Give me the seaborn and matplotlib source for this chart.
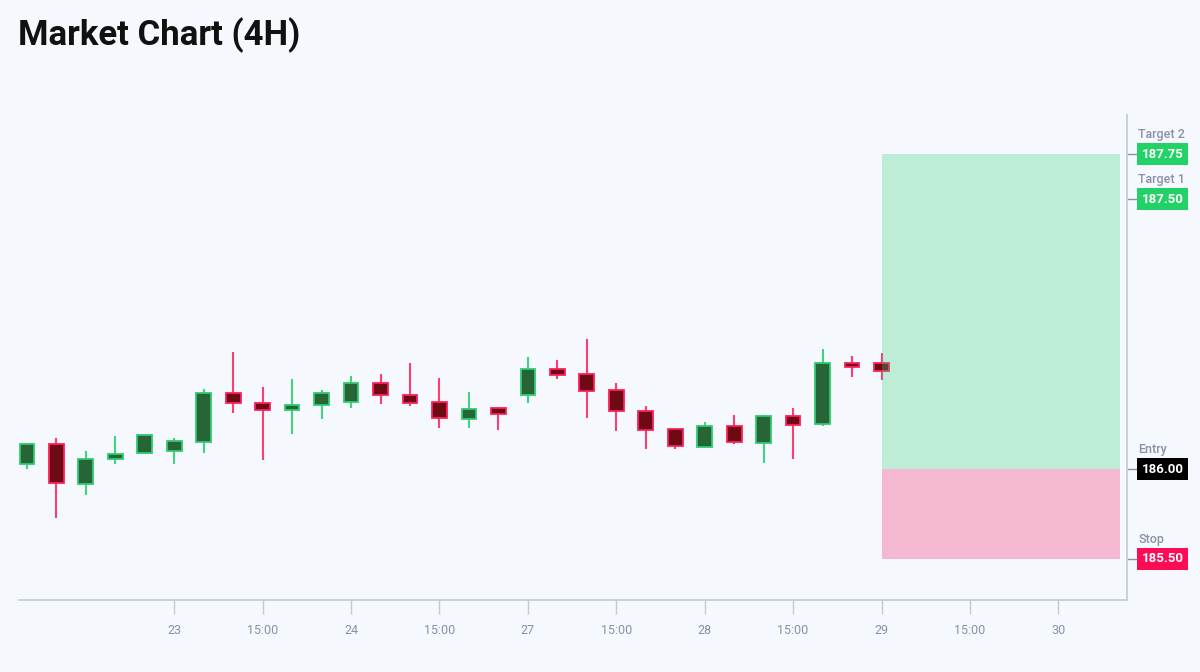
import numpy as np
import matplotlib
matplotlib.use("Agg")
import matplotlib.pyplot as plt
import seaborn as sns

# ============================================================
# DATA (4H candles)
# ============================================================
opens = [186.028, 186.139, 185.918, 186.054, 186.089, 186.100, 186.152, 186.422,
         186.365, 186.328, 186.356, 186.374, 186.476, 186.411, 186.371, 186.279,
         186.339, 186.411, 186.556, 186.528, 186.437, 186.324, 186.220, 186.124,
         186.239, 186.146, 186.296, 186.248, 186.591, 186.591]
highs = [186.146, 186.174, 186.098, 186.183, 186.189, 186.174, 186.446, 186.650,
         186.454, 186.500, 186.439, 186.517, 186.526, 186.591, 186.504, 186.426,
         186.344, 186.622, 186.604, 186.722, 186.478, 186.350, 186.220, 186.259,
         186.300, 186.298, 186.339, 186.668, 186.626, 186.643]
lows = [186.000, 185.729, 185.857, 186.026, 186.083, 186.029, 186.091, 186.309,
        186.048, 186.196, 186.278, 186.341, 186.359, 186.348, 186.226, 186.229,
        186.218, 186.367, 186.502, 186.285, 186.213, 186.111, 186.113, 186.124,
        186.139, 186.033, 186.057, 186.241, 186.511, 186.494]
closes = [186.139, 185.921, 186.057, 186.083, 186.189, 186.154, 186.421, 186.367,
          186.328, 186.356, 186.421, 186.476, 186.409, 186.367, 186.283, 186.333,
          186.304, 186.554, 186.524, 186.433, 186.321, 186.218, 186.128, 186.237,
          186.148, 186.294, 186.246, 186.587, 186.568, 186.544]

tick_pos = [5, 8, 11, 14, 17, 20, 23, 26, 29, 32, 35]
tick_labels = ["23", "15:00", "24", "15:00", "27", "15:00", "28", "15:00",
               "29", "15:00", "30"]

level_names = ["Target 2", "Target 1", "Entry", "Stop"]
level_values = [187.75, 187.50, 186.00, 185.50]
level_colors = ["#22d266", "#22d266", "#000000", "#ff0a54"]

zone_start, zone_end = 29, 37.1

# ============================================================
# STYLE
# ============================================================
BG = "#f5f8fd"
sns.set_theme(style="white")
plt.rcParams["font.family"] = ["Roboto", "DejaVu Sans"]

UP_FACE, UP_EDGE, UP_WICK = "#276536", "#2ecc71", "#45d184"
DN_FACE, DN_EDGE, DN_WICK = "#6e0a14", "#ff1f5e", "#ff3d75"
AXIS_GREY = "#c4c8d2"
TEXT_GREY = "#8b8fa8"

fig = plt.figure(figsize=(12, 6.72), dpi=100, facecolor=BG)
ax = fig.add_axes([0.0158, 0.1071, 0.9231, 0.7218], facecolor=BG)

o = np.array(opens); h = np.array(highs); l = np.array(lows); c = np.array(closes)
x = np.arange(len(o))
up = c >= o

# wicks
ax.vlines(x[up], l[up], h[up], color=UP_WICK, lw=1.5, zorder=2)
ax.vlines(x[~up], l[~up], h[~up], color=DN_WICK, lw=1.5, zorder=2)

# bodies
bottoms = np.minimum(o, c)
heights = np.abs(c - o)
ax.bar(x[up], heights[up], bottom=bottoms[up], width=0.5,
       color=UP_FACE, edgecolor=UP_EDGE, linewidth=1.3, zorder=3)
ax.bar(x[~up], heights[~up], bottom=bottoms[~up], width=0.5,
       color=DN_FACE, edgecolor=DN_EDGE, linewidth=1.3, zorder=3)

# trade zones (drawn over the last candle)
entry, stop, target = level_values[2], level_values[3], level_values[0]
ax.fill_between([zone_start, zone_end], entry, target, color="#34d47c",
                alpha=0.29, lw=0, zorder=4)
ax.fill_between([zone_start, zone_end], stop, entry, color="#f43d7a",
                alpha=0.34, lw=0, zorder=4)

# axes
ax.set_xlim(-0.27, 37.32)
ax.set_ylim(185.272, 187.967)
ax.set_xticks(tick_pos)
ax.set_xticklabels(tick_labels)
ax.yaxis.tick_right()
ax.set_yticks(level_values)
ax.set_yticklabels([])
ax.tick_params(axis="x", direction="out", length=10, width=1, color=AXIS_GREY,
               labelcolor=TEXT_GREY, labelsize=9, pad=7, bottom=True)
ax.tick_params(axis="y", direction="out", length=8, width=1, color=TEXT_GREY,
               right=True, left=False)
for side in ["top", "left"]:
    ax.spines[side].set_visible(False)
for side in ["bottom", "right"]:
    ax.spines[side].set_color(AXIS_GREY)
    ax.spines[side].set_linewidth(1.2)
ax.grid(False)

# level boxes on the right
for name, val, col in zip(level_names, level_values, level_colors):
    ax.annotate(f"{val:.2f}", xy=(1.0135, val), xycoords=("axes fraction", "data"),
                ha="left", va="center", color="white", fontsize=9.5,
                fontweight="bold",
                bbox=dict(boxstyle="square,pad=0.33", fc=col, ec="none"))
    ax.annotate(name, xy=(1.0103, val), xycoords=("axes fraction", "data"),
                xytext=(0, 14), textcoords="offset points",
                ha="left", va="center", color=TEXT_GREY, fontsize=9,
                fontweight="medium")

fig.text(0.015, 0.948, "Market Chart (4H)", fontsize=25, fontweight="bold",
         color="#111111", ha="left", va="center")

fig.savefig("out.png", dpi=100, facecolor=BG)
